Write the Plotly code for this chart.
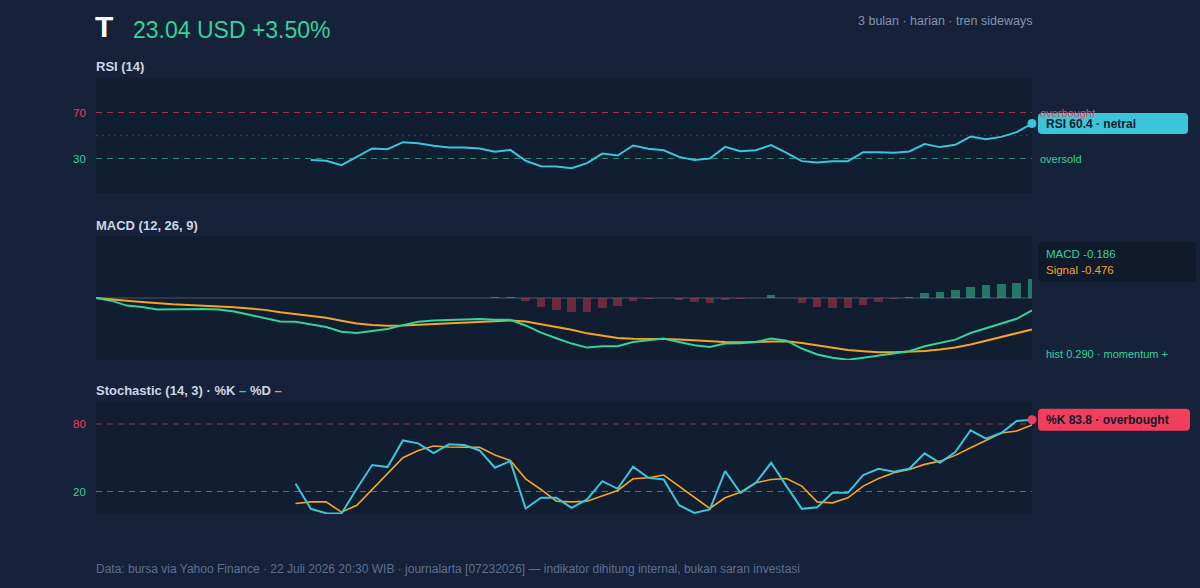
import plotly.graph_objects as go

W, H = 1200, 588

# ---------------- data ----------------
n_days = 62

rsi_start = 14
rsi_values = [28.8, 28.0, 24.2, 31.4, 38.7, 38.1, 44.2, 43.3, 41.0, 39.6, 39.6, 38.7,
              35.8, 37.5, 28.0, 23.3, 23.0, 21.6, 25.9, 34.3, 32.6, 41.3, 38.4, 37.2,
              31.4, 28.6, 30.0, 40.1, 36.4, 37.2, 41.6, 34.9, 27.7, 26.5, 27.7, 27.7,
              35.5, 35.5, 34.9, 36.1, 42.5, 39.9, 41.9, 49.1, 46.8, 48.8, 52.9, 60.4]

macd_values = [0.000, -0.040, -0.115, -0.135, -0.175, -0.170, -0.165, -0.165, -0.175, -0.205,
               -0.255, -0.300, -0.356, -0.361, -0.401, -0.441, -0.511, -0.531, -0.501, -0.471,
               -0.411, -0.361, -0.340, -0.330, -0.325, -0.320, -0.330, -0.330, -0.416, -0.526,
               -0.611, -0.691, -0.752, -0.731, -0.731, -0.666, -0.641, -0.616, -0.666, -0.716,
               -0.741, -0.691, -0.686, -0.666, -0.616, -0.646, -0.766, -0.857, -0.907, -0.937,
               -0.907, -0.872, -0.847, -0.807, -0.731, -0.686, -0.631, -0.531, -0.461, -0.391,
               -0.315, -0.186]

signal_values = [0.000, -0.015, -0.040, -0.060, -0.080, -0.095, -0.105, -0.115, -0.125, -0.140,
                 -0.160, -0.180, -0.215, -0.240, -0.271, -0.301, -0.346, -0.386, -0.411, -0.421,
                 -0.416, -0.406, -0.396, -0.381, -0.366, -0.356, -0.346, -0.341, -0.356, -0.396,
                 -0.436, -0.481, -0.536, -0.576, -0.606, -0.616, -0.616, -0.621, -0.631, -0.646,
                 -0.661, -0.666, -0.672, -0.666, -0.656, -0.656, -0.681, -0.716, -0.752, -0.787,
                 -0.807, -0.822, -0.822, -0.817, -0.802, -0.782, -0.752, -0.706, -0.651, -0.596,
                 -0.541, -0.476]

hist_start = 26
hist_values = [0.015, 0.010, -0.050, -0.140, -0.178, -0.216, -0.211, -0.150, -0.120, -0.050,
               -0.020, 0.004, -0.030, -0.065, -0.080, -0.030, -0.020, 0.003, 0.040, 0.004,
               -0.080, -0.140, -0.155, -0.155, -0.100, -0.055, -0.020, 0.015, 0.070, 0.090,
               0.115, 0.170, 0.190, 0.205, 0.230, 0.290]

stoch_start = 13
stoch_k = [27.1, 4.6, 0.7, 0.4, 22.7, 43.5, 41.7, 65.4, 62.8, 54.2, 61.9, 61.3, 56.5,
           41.1, 47.0, 4.9, 14.4, 14.4, 5.4, 12.9, 29.2, 22.4, 42.0, 32.2, 30.7, 7.8,
           1.0, 4.0, 38.1, 18.8, 27.7, 45.5, 24.8, 4.6, 6.0, 18.8, 18.8, 34.6, 40.2,
           37.5, 40.2, 53.9, 45.5, 55.0, 74.4, 66.9, 72.0, 82.7, 83.8]
stoch_d = [9.3, 10.8, 10.8, 1.6, 7.8, 21.8, 35.1, 50.0, 56.5, 60.4, 59.5, 59.2, 59.2,
           52.4, 47.6, 31.3, 21.8, 11.4, 10.8, 11.4, 16.4, 20.9, 31.3, 32.2, 34.6, 24.8,
           14.4, 4.9, 14.4, 19.4, 27.7, 30.7, 31.6, 24.8, 10.8, 9.9, 14.4, 24.8, 31.6,
           36.6, 39.6, 44.1, 47.0, 52.1, 58.9, 65.7, 72.0, 73.8, 79.1]

rsi_levels = [70, 50, 30]
stoch_levels = [80, 20]

# ---------------- style ----------------
BG = "#15223a"
PANEL = "#111d30"
CYAN = "#3ac6d9"
GREEN = "#34d399"
ORANGE = "#f5a524"
RED = "#f03e5c"
TITLE = "#cdd6e3"
MUTED = "#8494ad"
FONT = "Liberation Sans, Arial, Helvetica, sans-serif"

x_left, x_right = 96, 1032
panels = {  # pixel top, bottom
    "rsi": (78, 193),
    "macd": (236, 360),
    "stoch": (401.5, 514),
}
ranges = {"rsi": (0, 100), "macd": (-0.94, 0.94), "stoch": (0, 100)}


def px_x(x):
    return x / W


def px_y(y):
    return 1 - y / H


def val_to_px(panel, v):
    top, bot = panels[panel]
    r0, r1 = ranges[panel]
    return bot - (v - r0) / (r1 - r0) * (bot - top)


def rrect(x0, y0, x1, y1, r):
    pts = [
        ("M", [(x0 + r, y0)]), ("L", [(x1 - r, y0)]), ("Q", [(x1, y0), (x1, y0 + r)]),
        ("L", [(x1, y1 - r)]), ("Q", [(x1, y1), (x1 - r, y1)]), ("L", [(x0 + r, y1)]),
        ("Q", [(x0, y1), (x0, y1 - r)]), ("L", [(x0, y0 + r)]), ("Q", [(x0, y0), (x0 + r, y0)]),
    ]
    s = ""
    for cmd, ps in pts:
        s += cmd + " " + " ".join(f"{px_x(a):.5f},{px_y(b):.5f}" for a, b in ps) + " "
    return s + "Z"


fig = go.Figure()

# RSI
rsi_x = list(range(rsi_start, rsi_start + len(rsi_values)))
fig.add_trace(go.Scatter(x=rsi_x, y=rsi_values, mode="lines",
                         line=dict(color=CYAN, width=2), xaxis="x", yaxis="y",
                         hoverinfo="skip"))
fig.add_trace(go.Scatter(x=[rsi_x[-1]], y=[rsi_values[-1]], mode="markers",
                         marker=dict(color=CYAN, size=9), cliponaxis=False,
                         xaxis="x", yaxis="y", hoverinfo="skip"))

# MACD
days = list(range(n_days))
hist_x = list(range(hist_start, hist_start + len(hist_values)))
hist_colors = ["rgba(52,211,153,0.5)" if v >= 0 else "rgba(240,62,92,0.4)" for v in hist_values]
fig.add_trace(go.Bar(x=hist_x, y=hist_values, marker=dict(color=hist_colors, line=dict(width=0)),
                     width=0.55, xaxis="x2", yaxis="y2", hoverinfo="skip"))
fig.add_trace(go.Scatter(x=days, y=signal_values, mode="lines",
                         line=dict(color=ORANGE, width=2), xaxis="x2", yaxis="y2",
                         hoverinfo="skip"))
fig.add_trace(go.Scatter(x=days, y=macd_values, mode="lines",
                         line=dict(color=GREEN, width=2), xaxis="x2", yaxis="y2",
                         hoverinfo="skip"))

# Stochastic
st_x = list(range(stoch_start, stoch_start + len(stoch_k)))
fig.add_trace(go.Scatter(x=st_x, y=stoch_d, mode="lines",
                         line=dict(color=ORANGE, width=1.6), xaxis="x3", yaxis="y3",
                         hoverinfo="skip"))
fig.add_trace(go.Scatter(x=st_x, y=stoch_k, mode="lines",
                         line=dict(color=CYAN, width=2), xaxis="x3", yaxis="y3",
                         hoverinfo="skip"))
fig.add_trace(go.Scatter(x=[st_x[-1]], y=[stoch_k[-1]], mode="markers",
                         marker=dict(color=RED, size=9), cliponaxis=False,
                         xaxis="x3", yaxis="y3", hoverinfo="skip"))

# axes
xdom = [px_x(x_left), px_x(x_right)]
for i, key in enumerate(["rsi", "macd", "stoch"]):
    top, bot = panels[key]
    sfx = "" if i == 0 else str(i + 1)
    fig.layout["xaxis" + sfx] = dict(domain=xdom, range=[0, n_days - 1], visible=False,
                                     anchor="y" + sfx, fixedrange=True)
    fig.layout["yaxis" + sfx] = dict(domain=[px_y(bot), px_y(top)], range=list(ranges[key]),
                                     visible=False, anchor="x" + sfx, fixedrange=True)

shapes = []
# reference lines
lvl_style = {70: ("rgba(240,62,92,0.65)", "6px,5px", 1.2),
             50: ("#2e3d55", "2px,4px", 1.5),
             30: ("rgba(52,211,153,0.6)", "6px,5px", 1.2)}
for lv in rsi_levels:
    c, d, w = lvl_style[lv]
    shapes.append(dict(type="line", xref="x", yref="y", x0=0, x1=n_days - 1, y0=lv, y1=lv,
                       line=dict(color=c, dash=d, width=w), layer="below"))
shapes.append(dict(type="line", xref="x2", yref="y2", x0=0, x1=n_days - 1, y0=0, y1=0,
                   line=dict(color="#2c3a50", width=2), layer="below"))
st_style = {80: ("rgba(240,62,92,0.65)", "6px,5px", 1.2),
            20: ("rgba(52,211,153,0.6)", "6px,5px", 1.2)}
for lv in stoch_levels:
    c, d, w = st_style[lv]
    shapes.append(dict(type="line", xref="x3", yref="y3", x0=0, x1=n_days - 1, y0=lv, y1=lv,
                       line=dict(color=c, dash=d, width=w), layer="below"))

annotations = []


def ann(text, x, y, size, color, xanchor="left", yanchor="middle"):
    annotations.append(dict(text=text, x=px_x(x), y=px_y(y), xref="paper", yref="paper",
                            xanchor=xanchor, yanchor=yanchor, showarrow=False,
                            borderpad=0, borderwidth=0,
                            font=dict(family=FONT, size=size, color=color)))


# header
ann("<b>T</b>", 95, 27, 30, "#ffffff")
ann("23.04 USD +3.50%", 133, 30, 23, GREEN)
ann("3 bulan · harian · tren sideways", 1032, 21, 12.5, MUTED, xanchor="right")

# panel titles
ann("<b>RSI (14)</b>", 96, 67, 13, TITLE)
ann("<b>MACD (12, 26, 9)</b>", 96, 225, 13, TITLE)
ann(f"<b>Stochastic (14, 3) · %K <span style='color:{CYAN}'>–</span> %D "
    f"<span style='color:{ORANGE}'>–</span></b>", 96, 390, 13, TITLE)

# y tick labels
ann("70", 86, val_to_px("rsi", 70), 11.5, RED, xanchor="right")
ann("30", 86, val_to_px("rsi", 30), 11.5, GREEN, xanchor="right")
ann("80", 86, val_to_px("stoch", 80), 11.5, RED, xanchor="right")
ann("20", 86, val_to_px("stoch", 20), 11.5, GREEN, xanchor="right")

# RSI right side
ann("overbought", 1040, val_to_px("rsi", 70), 11, RED)
ann("oversold", 1040, val_to_px("rsi", 30), 11, GREEN)
ry = val_to_px("rsi", rsi_values[-1])
shapes.append(dict(type="path", xref="paper", yref="paper", path=rrect(1038, ry - 10.5, 1188, ry + 10.5, 4),
                   fillcolor=CYAN, line=dict(width=0), layer="above"))
ann(f"<b>RSI {rsi_values[-1]:.1f} · netral</b>", 1046, ry, 12, "#0e1a2b")

# MACD legend box
shapes.append(dict(type="path", xref="paper", yref="paper", path=rrect(1038, 242, 1196, 282, 4),
                   fillcolor="#0f1a2b", line=dict(width=0), layer="above"))
ann(f"MACD {macd_values[-1]:.3f}", 1046, 254, 11.5, GREEN)
ann(f"Signal {signal_values[-1]:.3f}", 1046, 270, 11.5, ORANGE)
ann(f"hist {hist_values[-1]:.3f} · momentum +", 1046, 354, 11, GREEN)

# Stoch label
sy = val_to_px("stoch", stoch_k[-1])
shapes.append(dict(type="path", xref="paper", yref="paper", path=rrect(1038, sy - 11, 1190, sy + 11, 4),
                   fillcolor=RED, line=dict(width=0), layer="above"))
ann(f"<b>%K {stoch_k[-1]:.1f} · overbought</b>", 1046, sy, 12, "#0e1a2b")

# footer
ann("Data: bursa via Yahoo Finance · 22 Juli 2026 20:30 WIB · journalarta [07232026] — "
    "indikator dihitung internal, bukan saran investasi", 96, 569, 12, "#5e7090")

fig.update_layout(
    width=W, height=H, margin=dict(l=0, r=0, t=0, b=0),
    paper_bgcolor=BG, plot_bgcolor=PANEL, showlegend=False,
    shapes=shapes, annotations=annotations, bargap=0,
    font=dict(family=FONT, color=TITLE),
)

fig.write_html("out.html", config={"displayModeBar": False})
